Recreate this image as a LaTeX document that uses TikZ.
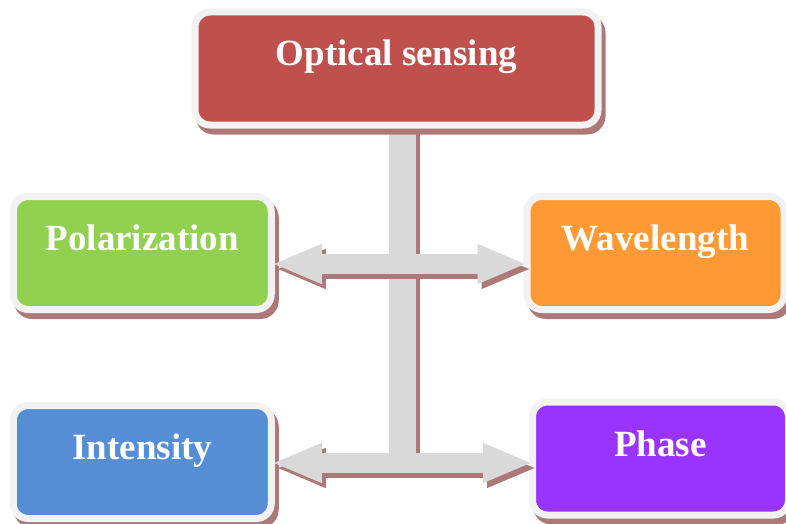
\documentclass[tikz,border=0pt]{standalone}
\usepackage{fontspec}
\setmainfont{Liberation Serif}
\definecolor{optred}{RGB}{192, 80, 77}
\definecolor{polgreen}{RGB}{146, 208, 80}
\definecolor{wavorange}{RGB}{255, 153, 51}
\definecolor{intblue}{RGB}{85, 142, 213}
\definecolor{phapurple}{RGB}{153, 51, 255}
\definecolor{rimgray}{RGB}{242, 242, 242}
\definecolor{bargray}{RGB}{217, 217, 217}
\definecolor{shadowred}{RGB}{172, 120, 120}
\usetikzlibrary{arrows.meta, positioning}

\begin{document}
\begin{tikzpicture}[x=1pt, y=-1pt,
  box/.style={draw=rimgray, line width=7pt, rounded corners=15pt, text=white,
    font=\bfseries\fontsize{37}{40}\selectfont, inner sep=0pt,
    text height=54pt, text depth=59pt,
    preaction={draw=shadowred, fill=shadowred, transform canvas={shift={(4pt,-6pt)}}}},
  bar/.style={bargray, line width=27pt},
  arr/.style={bargray, line width=20pt, <->, >={Triangle[length=50pt, width=36pt]},
    shorten <=-3pt, shorten >=-4pt},
  shade/.style={shadowred, transform canvas={shift={(4pt,-5pt)}}}]
  \useasboundingbox (0, 0) rectangle (786, 524);

  % Junction points of the connectors
  \coordinate (hi) at (402.5, 264);
  \coordinate (lo) at (402.5, 463);

  % Trunk
  \draw[bar, shade] (402.5, 126) -- (lo);
  \draw[bar] (402.5, 126) -- (lo);

  % Boxes
  \node[box, fill=optred, minimum width=403pt] (opt) at (396.5, 68.5) {Optical sensing};
  \node[box, fill=polgreen, minimum width=258pt] (pol) at (142.25, 253) {Polarization};
  \node[box, fill=wavorange, minimum width=257pt] (wav) at (655.5, 253) {Wavelength};
  \node[box, fill=intblue, minimum width=258pt] (int) at (142.25, 462) {Intensity};
  \node[box, fill=phapurple, minimum width=256pt] (pha) at (660.5, 458.5) {Phase};

  % Branches
  \draw[arr, shade] (pol.east |- hi) -- (wav.west |- hi);
  \draw[arr] (pol.east |- hi) -- (wav.west |- hi);
  \draw[arr, shade] (int.east |- lo) -- (pha.west |- lo);
  \draw[arr] (int.east |- lo) -- (pha.west |- lo);
\end{tikzpicture}
\end{document}
